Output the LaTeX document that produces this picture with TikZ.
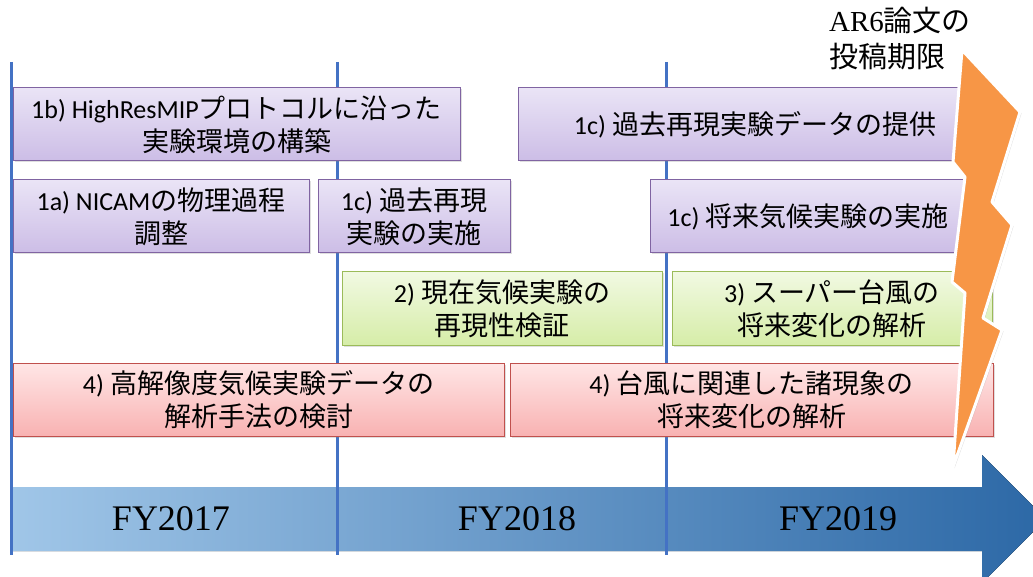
\documentclass[tikz,border=0pt]{standalone}
\usepackage{fontspec}
\usetikzlibrary{shadows}
\newfontfamily\jp{Noto Sans CJK JP}
\newfontfamily\tms{Liberation Serif}
\newfontfamily\carlitofont{Carlito}
\newcommand{\lt}[1]{{\carlitofont\fontsize{26}{33}\selectfont #1}}
\definecolor{vline}{RGB}{68,114,196}
\definecolor{pborder}{RGB}{128,100,162}
\definecolor{ptop}{RGB}{234,228,246}
\definecolor{pbot}{RGB}{204,189,230}
\definecolor{gborder}{RGB}{155,187,89}
\definecolor{gtop}{RGB}{241,249,226}
\definecolor{gbot}{RGB}{214,237,168}
\definecolor{rborder}{RGB}{192,80,77}
\definecolor{rtop}{RGB}{255,230,230}
\definecolor{rbot}{RGB}{248,178,178}
\definecolor{arrL}{RGB}{160,198,232}
\definecolor{arrR}{RGB}{44,104,166}
\definecolor{bolt}{RGB}{247,150,70}
\tikzset{
  task/.style={rectangle, inner sep=0pt, line width=1pt, align=center,
    font=\jp\fontsize{27}{33}\selectfont,
    drop shadow={shadow xshift=1.5pt, shadow yshift=-1.5pt, opacity=0.25}},
  pbox/.style={task, draw=pborder, top color=ptop, bottom color=pbot},
  gbox/.style={task, draw=gborder, top color=gtop, bottom color=gbot},
  rbox/.style={task, draw=rborder, top color=rtop, bottom color=rbot},
  yline/.style={draw=vline, line width=3pt},
  fylabel/.style={font=\tms\fontsize{36}{40}\selectfont, inner sep=0pt},
}
\begin{document}
\begin{tikzpicture}[x=1pt,y=-1pt]
\useasboundingbox (0,0) rectangle (1033,577);
\clip (0,0) rectangle (1033,577);
% timeline arrow
\fill[left color=arrL, right color=arrR]
  (11,487) -- (982,487) -- (982,455) -- (1046,519) -- (982,583) -- (982,551) -- (11,551) -- cycle;
% year separators
\draw[yline] (11,62) -- (11,555);
\draw[yline] (337,62) -- (337,555);
\draw[yline] (666,62) -- (666,555);
% year labels
\node[fylabel] (fy17) at (171,519) {FY2017};
\node[fylabel] (fy18) at (517,519) {FY2018};
\node[fylabel] (fy19) at (838,519) {FY2019};
% tasks
\node[pbox, minimum width=447pt, minimum height=73pt] (b1b) at (236.5,124.5)
  {\lt{1b) HighResMIP}プロトコルに沿った\\実験環境の構築};
\node[pbox, minimum width=474pt, minimum height=73pt] (b1ct) at (755,124.5)
  {\lt{1c)} 過去再現実験データの提供};
\node[pbox, minimum width=296pt, minimum height=73pt] (b1a) at (161,216.5)
  {\lt{1a) NICAM}の物理過程\\調整};
\node[pbox, minimum width=192pt, minimum height=73pt] (b1cp) at (414,216.5)
  {\lt{1c)} 過去再現\\実験の実施};
\node[pbox, minimum width=316pt, minimum height=73pt] (b1cf) at (808,216.5)
  {\lt{1c)} 将来気候実験の実施};
\node[gbox, minimum width=320pt, minimum height=73pt] (b2) at (502,308.5)
  {\lt{2)} 現在気候実験の\\再現性検証};
\node[gbox, minimum width=320pt, minimum height=73pt] (b3) at (832,308.5)
  {\lt{3)} スーパー台風の\\将来変化の解析};
\node[rbox, minimum width=491pt, minimum height=73pt] (b4l) at (258.5,399.5)
  {\lt{4)} 高解像度気候実験データの\\解析手法の検討};
\node[rbox, minimum width=483pt, minimum height=73pt] (b4r) at (751.5,399.5)
  {\lt{4)} 台風に関連した諸現象の\\将来変化の解析};
% deadline bolt
\filldraw[fill=bolt, draw=white, line width=3pt, line join=round,
  drop shadow={shadow xshift=1.5pt, shadow yshift=-1.5pt, opacity=0.25}]
  (962,50) -- (1020,112) -- (992,202) -- (1012,225) -- (983,318) -- (1002,330)
  -- (953,467) -- (965,293) -- (952,282) -- (965,177) -- (953,162) -- cycle;
\node[anchor=north west, align=left, inner sep=0pt,
  font=\jp\fontsize{29}{36}\selectfont] (dl) at (829,7)
  {{\tms AR6}論文の\\投稿期限};
\end{tikzpicture}
\end{document}
